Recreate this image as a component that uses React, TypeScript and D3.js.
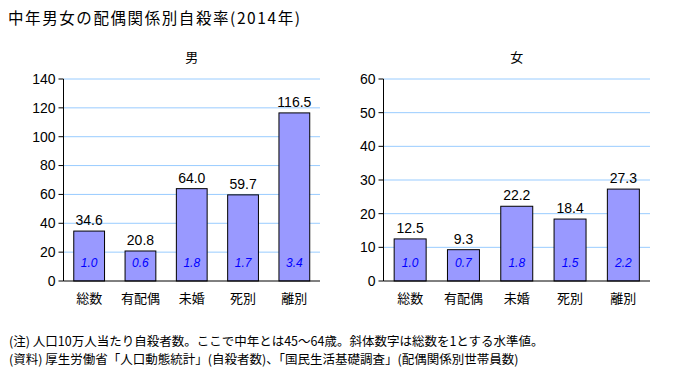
import React from "react";
import * as d3 from "d3";

const categories = ["総数", "有配偶", "未婚", "死別", "離別"];
const maleValues = [34.6, 20.8, 64.0, 59.7, 116.5];
const maleRatio = ["1.0", "0.6", "1.8", "1.7", "3.4"];
const femaleValues = [12.5, 9.3, 22.2, 18.4, 27.3];
const femaleRatio = ["1.0", "0.7", "1.8", "1.5", "2.2"];
const maleTicks = [0, 20, 40, 60, 80, 100, 120, 140];
const femaleTicks = [0, 10, 20, 30, 40, 50, 60];

const FONT = "'Noto Sans CJK JP', 'Noto Sans', sans-serif";
const NUM = "'Liberation Sans', Arial, sans-serif";

function Panel({ title, values, ratios, ticks, x0, x1, max }: any) {
  const y = d3.scaleLinear().domain([0, max]).range([281, 79]);
  const x = d3.scaleBand().domain(categories).range([x0, x1]).paddingInner(0.4).paddingOuter(0.2);
  return (
    <g>
      <text x={(x0 + x1) / 2} y={62} textAnchor="middle" fontSize={13} fontFamily={FONT}>{title}</text>
      {ticks.map((t: number) => (
        <g key={t}>
          {t > 0 && <line x1={x0} x2={x1} y1={y(t)} y2={y(t)} stroke="#99ccff" strokeWidth={1} />}
          <line x1={x0 - 5} x2={x0} y1={y(t)} y2={y(t)} stroke="#000" />
          <text x={x0 - 8} y={y(t)} dy="0.35em" textAnchor="end" fontSize={14} fontFamily={NUM}>{t}</text>
        </g>
      ))}
      {values.map((v: number, i: number) => {
        const c = categories[i];
        const bx = x(c)!;
        const cx = bx + x.bandwidth() / 2;
        return (
          <g key={c}>
            <rect x={bx} y={y(v)} width={x.bandwidth()} height={281 - y(v)} fill="#9999ff" stroke="#000" strokeWidth={1} />
            <text x={cx} y={y(v) - 6} textAnchor="middle" fontSize={14} fontFamily={NUM}>{v.toFixed(1)}</text>
            <text x={cx} y={267} textAnchor="middle" fontSize={12} fontStyle="italic" fill="#0000ff" fontFamily={NUM}>{ratios[i]}</text>
            <text x={cx} y={303} textAnchor="middle" fontSize={13} fontFamily={FONT}>{c}</text>
          </g>
        );
      })}
      <line x1={x0} x2={x0} y1={79} y2={281} stroke="#000" />
      <line x1={x0} x2={x1} y1={281} y2={281} stroke="#000" />
    </g>
  );
}

export default function App() {
  return (
    <svg width={679} height={375} style={{ position: "absolute", left: 0, top: 0, background: "#fff" }}>
      <text x={8} y={24} fontSize={15.5} fontFamily={FONT} textLength={292} lengthAdjust="spacing">中年男女の配偶関係別自殺率(2014年)</text>
      <Panel title="男" values={maleValues} ratios={maleRatio} ticks={maleTicks} x0={63.5} x1={320} max={140} />
      <Panel title="女" values={femaleValues} ratios={femaleRatio} ticks={femaleTicks} x0={383.5} x1={650} max={60} />
      <text x={9} y={346} fontSize={12.5} fontFamily={FONT}>(注) 人口10万人当たり自殺者数。ここで中年とは45～64歳。斜体数字は総数を1とする水準値。</text>
      <text x={9} y={364} fontSize={12.5} fontFamily={FONT}>(資料) 厚生労働省「人口動態統計」(自殺者数)、「国民生活基礎調査」(配偶関係別世帯員数)</text>
    </svg>
  );
}
